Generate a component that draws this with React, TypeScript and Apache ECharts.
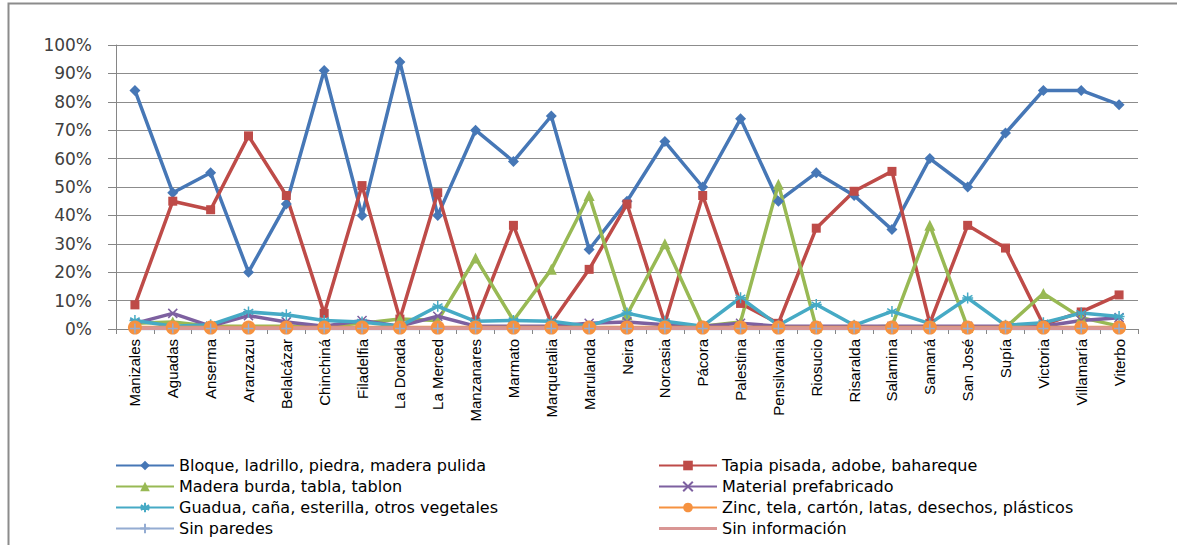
import React, { useEffect, useRef } from "react";
import * as echarts from "echarts";

const categories = [
  "Manizales", "Aguadas", "Anserma", "Aranzazu", "Belalcázar", "Chinchiná", "Filadelfia",
  "La Dorada", "La Merced", "Manzanares", "Marmato", "Marquetalia", "Marulanda", "Neira",
  "Norcasia", "Pácora", "Palestina", "Pensilvania", "Riosucio", "Risaralda", "Salamina",
  "Samaná", "San José", "Supía", "Victoria", "Villamaría", "Viterbo",
];

const bloque = [84, 48, 55, 20, 44, 91, 40, 94, 40, 70, 59, 75, 28, 45, 66, 50, 74, 45, 55, 47, 35, 60, 50, 69, 84, 84, 79];
const tapia = [8.5, 45, 42, 68, 47, 5.5, 50.5, 3.5, 48, 2.5, 36.5, 2, 21, 44, 2, 47, 9, 2, 35.5, 48.5, 55.5, 2, 36.5, 28.5, 1.5, 6, 12];
const maderaBurda = [2, 2.5, 1, 1, 1, 1, 2, 3.5, 3, 25, 3, 21, 47, 5, 30, 1, 2.5, 51, 0.5, 0.5, 1, 36.5, 0.5, 0.5, 12.5, 4, 1];
const prefabricado = [2, 5.5, 1, 4.7, 2.5, 1, 3, 1, 4.5, 1, 1, 1, 2, 2.5, 1.5, 1, 2, 1, 1, 1, 1, 1, 1, 1, 1, 3, 4];
const guadua = [3, 1, 1.5, 6, 5, 3, 2.5, 1, 8, 2.7, 3, 2.7, 1, 5.6, 2.7, 1, 11, 1.3, 8.6, 1.3, 6.2, 1.9, 10.9, 1.3, 2.2, 5.6, 4.4];
const zinc = [0.5, 0.5, 0.5, 0.5, 0.5, 0.5, 0.5, 0.5, 0.5, 0.5, 0.5, 0.5, 0.5, 0.5, 0.5, 0.5, 0.5, 0.5, 0.5, 0.5, 0.5, 0.5, 0.5, 0.5, 0.5, 0.5, 0.5];
const sinParedes = [0.2, 0.2, 0.2, 0.2, 0.2, 0.2, 0.2, 0.2, 0.2, 0.2, 0.2, 0.2, 0.2, 0.2, 0.2, 0.2, 0.2, 0.2, 0.2, 0.2, 0.2, 0.2, 0.2, 0.2, 0.2, 0.2, 0.2];
const sinInformacion = [0.3, 0.3, 0.3, 0.3, 0.3, 0.3, 0.3, 0.3, 0.3, 0.3, 0.3, 0.3, 0.3, 0.3, 0.3, 0.3, 0.3, 0.3, 0.3, 0.3, 0.3, 0.3, 0.3, 0.3, 0.3, 0.3, 0.3];

const names = [
  "Bloque, ladrillo, piedra, madera pulida",
  "Tapia pisada, adobe, bahareque",
  "Madera burda, tabla, tablon",
  "Material prefabricado",
  "Guadua, caña, esterilla, otros vegetales",
  "Zinc, tela, cartón, latas, desechos, plásticos",
  "Sin paredes",
  "Sin información",
];

const colors = ["#4677B6", "#BE4B48", "#98B954", "#7D60A0", "#46AAC5", "#F69240", "#94ACD2", "#D99694"];

const X_PATH = "path://M0,0L10,10M10,0L0,10";
const STAR_PATH = "path://M5,0L5,10M0.7,2.5L9.3,7.5M0.7,7.5L9.3,2.5M0,5L10,5";
const PLUS_PATH = "path://M5,0L5,10M0,5L10,5";
const LINE_ICON = "path://M0,0L0.01,0L0,0.01ZM0,4.6L58,4.6L58,7.4L0,7.4ZM0,12L0.01,12L0,11.99Z";

export default function App() {
  const ref = useRef<HTMLDivElement>(null);

  useEffect(() => {
    if (!ref.current) return;
    const chart = echarts.init(ref.current, null, { renderer: "svg" });

    const datasets = [bloque, tapia, maderaBurda, prefabricado, guadua, zinc, sinParedes, sinInformacion];
    const symbols: any[] = ["diamond", "rect", "triangle", X_PATH, STAR_PATH, "circle", PLUS_PATH, "none"];
    const sizes = [11, 9, 11, 9, 11, 14, 10, 0];
    const stroked = [false, false, false, true, true, false, true, false];

    const series = datasets.map((d, i) => ({
      type: "line",
      name: names[i],
      data: d,
      color: colors[i],
      symbol: symbols[i],
      symbolSize: sizes[i],
      showSymbol: symbols[i] !== "none",
      lineStyle: { color: colors[i], width: 3.5 },
      itemStyle: stroked[i]
        ? { color: colors[i], borderColor: colors[i], borderWidth: 1.5 }
        : { color: colors[i] },
      emphasis: { disabled: true },
    }));

    const legendCommon = {
      orient: "vertical",
      top: 452.5,
      height: 200,
      itemWidth: 58,
      itemHeight: 12,
      itemGap: 5,
      selectedMode: false,
      textStyle: { fontFamily: "DejaVu Sans", fontSize: 16, lineHeight: 16, color: "#000" },
    };

    chart.setOption({
      animation: false,
      backgroundColor: "#ffffff",
      graphic: [
        {
          type: "rect",
          silent: true,
          z: -10,
          shape: { x: 8.5, y: 3.5, width: 1400, height: 800 },
          style: { fill: "none", stroke: "#8c8c8c", lineWidth: 2 },
        },
      ],
      grid: { left: 116, right: 39, top: 45, bottom: 216 },
      xAxis: {
        type: "category",
        data: categories,
        boundaryGap: true,
        axisLine: { show: true, lineStyle: { color: "#868686", width: 1 } },
        axisTick: { show: true, length: 5, lineStyle: { color: "#868686" } },
        axisLabel: {
          rotate: 90,
          interval: 0,
          margin: 10,
          fontFamily: "Liberation Sans",
          fontSize: 15,
          color: "#000",
        },
      },
      yAxis: {
        type: "value",
        min: 0,
        max: 100,
        interval: 10,
        axisLine: { show: true, lineStyle: { color: "#868686", width: 1 } },
        axisTick: { show: true, length: 8, lineStyle: { color: "#868686" } },
        splitLine: { show: true, lineStyle: { color: "#8c8c8c", width: 1 } },
        axisLabel: {
          formatter: "{value}%",
          margin: 24,
          fontFamily: "DejaVu Sans",
          fontSize: 17,
          color: "#404040",
        },
      },
      legend: [
        { ...legendCommon, left: 110, data: [names[0], names[2], names[4], names[6]] },
        {
          ...legendCommon,
          left: 653,
          data: [names[1], names[3], names[5], { name: names[7], icon: LINE_ICON }],
        },
      ],
      series,
    });

    return () => chart.dispose();
  }, []);

  return (
    <div
      ref={ref}
      style={{ position: "absolute", left: 0, top: 0, width: 1177, height: 545, background: "#fff" }}
    />
  );
}
